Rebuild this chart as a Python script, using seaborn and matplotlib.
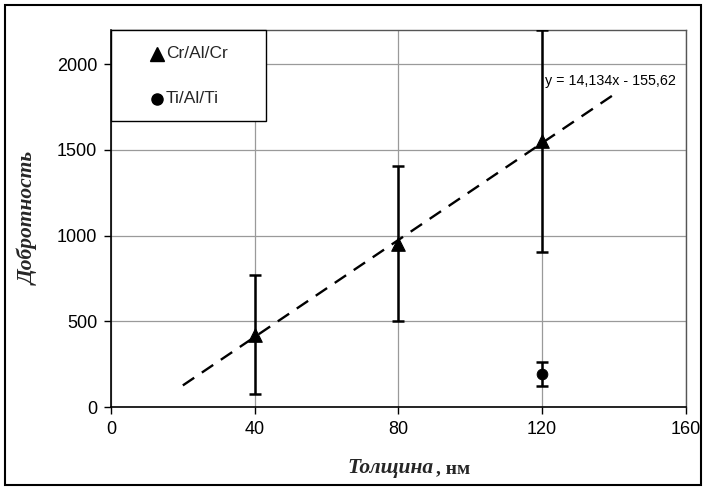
import matplotlib
matplotlib.use("Agg")
import matplotlib.pyplot as plt
from matplotlib.patches import Rectangle
import numpy as np
import pandas as pd
import seaborn as sns

# Measured quality factor vs. film thickness
thickness_cr = [40, 80, 120]
q_cr = [420, 950, 1550]
q_cr_low = [75, 500, 905]
q_cr_high = [770, 1405, 2200]

thickness_ti = [120]
q_ti = [195]
q_ti_low = [125]
q_ti_high = [265]

# Linear trend for Cr/Al/Cr
trend_slope = 14.134
trend_intercept = -155.62
trend_x = [20, 140]

x_ticks = [0, 40, 80, 120, 160]
y_ticks = [0, 500, 1000, 1500, 2000]
series_names = ["Cr/Al/Cr", "Ti/Al/Ti"]

sns.set_theme(style="white")
plt.rcParams["font.family"] = ["Liberation Sans", "DejaVu Sans"]
serif = ["Liberation Serif", "DejaVu Serif"]

fig = plt.figure(figsize=(7.07, 4.9), dpi=100)
ax = fig.add_axes([0.157, 0.169, 0.813, 0.770])

df_cr = pd.DataFrame({"x": thickness_cr, "q": q_cr})
df_ti = pd.DataFrame({"x": thickness_ti, "q": q_ti})

# error bars
for xs, qs, lo, hi in [(thickness_cr, q_cr, q_cr_low, q_cr_high),
                       (thickness_ti, q_ti, q_ti_low, q_ti_high)]:
    qs = np.array(qs)
    yerr = [qs - np.array(lo), np.array(hi) - qs]
    ax.errorbar(xs, qs, yerr=yerr, fmt="none", ecolor="black",
                elinewidth=1.8, capsize=4, capthick=1.8, zorder=3)

# trend line
tx = np.array(trend_x, dtype=float)
df_trend = pd.DataFrame({"x": tx, "y": trend_slope * tx + trend_intercept})
sns.lineplot(data=df_trend, x="x", y="y", ax=ax, color="black",
             linewidth=1.7, zorder=4, legend=False)
ax.lines[-1].set_dashes([5.8, 3.9])

sns.scatterplot(data=df_cr, x="x", y="q", ax=ax, marker="^", s=95,
                color="black", edgecolor="black", zorder=5, legend=False)
sns.scatterplot(data=df_ti, x="x", y="q", ax=ax, marker="o", s=60,
                color="black", edgecolor="black", zorder=5, legend=False)

ax.text(120.8, 1900, "y = 14,134x - 155,62", fontsize=10.3, ha="left",
        va="center", color="black", zorder=6)

ax.set_xlim(0, 160)
ax.set_ylim(0, 2200)
ax.set_xticks(x_ticks)
ax.set_yticks(y_ticks)
ax.tick_params(axis="both", labelsize=13, colors="black", length=5,
               width=1, direction="out")
ax.tick_params(axis="y", pad=5)
ax.tick_params(axis="x", pad=5)
ax.xaxis.set_ticks_position("bottom")
ax.yaxis.set_ticks_position("left")
ax.grid(True, color="#9a9a9a", linewidth=0.9)
ax.set_axisbelow(True)

for side in ["left", "bottom"]:
    ax.spines[side].set_color("black")
    ax.spines[side].set_linewidth(1.2)
for side in ["top", "right"]:
    ax.spines[side].set_color("#555555")
    ax.spines[side].set_linewidth(1.0)

ax.set_xlabel("")
ax.set_ylabel("Добротность", fontsize=15.5, fontweight="bold",
              fontstyle="italic", family=serif, labelpad=13)
fig.text(0.613, 0.035, "Толщина", fontsize=15.5, fontweight="bold",
         fontstyle="italic", family=serif, ha="right", va="baseline")
fig.text(0.616, 0.035, ", нм", fontsize=14, fontweight="bold",
         family=serif, ha="left", va="baseline")

# legend box in the upper-left corner of the plot area
leg_w, leg_h = 155 / 575, 91 / 377
ax.add_patch(Rectangle((0, 1 - leg_h), leg_w, leg_h, transform=ax.transAxes,
                       facecolor="white", edgecolor="black", linewidth=1.0,
                       zorder=10, clip_on=False))
for name, mk, ms, ry in [(series_names[0], "^", 9.5, 1 - 24 / 377),
                         (series_names[1], "o", 8, 1 - 69 / 377)]:
    ax.plot([46 / 575], [ry], marker=mk, markersize=ms, color="black",
            linestyle="none", transform=ax.transAxes, zorder=11, clip_on=False)
    ax.text(55 / 575, ry, name, fontsize=12.5, ha="left", va="center",
            transform=ax.transAxes, zorder=11)

fig.patches.append(Rectangle((0.007, 0.01), 0.984, 0.979, transform=fig.transFigure,
                             fill=False, edgecolor="black", linewidth=1.5))

fig.savefig("out.png", dpi=100)
